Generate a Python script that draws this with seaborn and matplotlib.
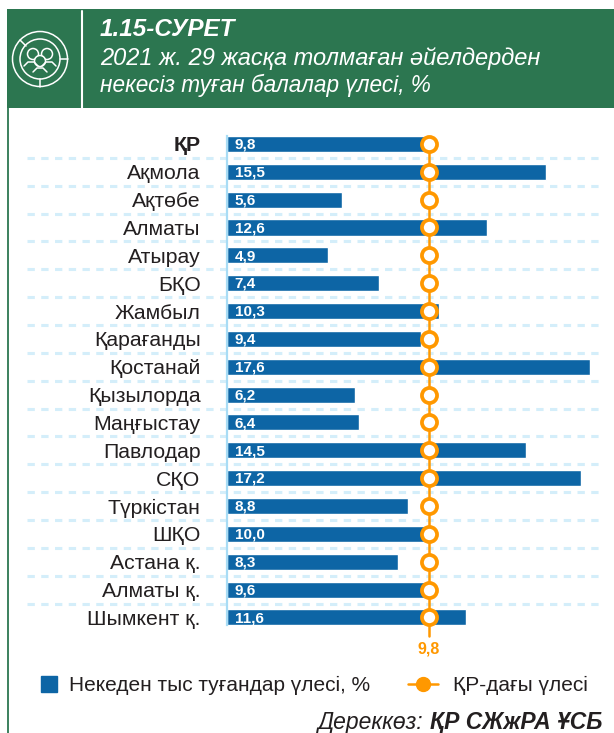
import matplotlib
matplotlib.use("Agg")
import matplotlib.pyplot as plt
from matplotlib.legend_handler import HandlerPatch
from matplotlib.lines import Line2D
from matplotlib.patches import Circle, Patch, Rectangle
import pandas as pd
import seaborn as sns

regions = ["ҚР", "Ақмола", "Ақтөбе", "Алматы", "Атырау", "БҚО", "Жамбыл", "Қарағанды", "Қостанай",
           "Қызылорда", "Маңғыстау", "Павлодар", "СҚО", "Түркістан", "ШҚО", "Астана қ.", "Алматы қ.", "Шымкент қ."]
shares = [9.8, 15.5, 5.6, 12.6, 4.9, 7.4, 10.3, 9.4, 17.6, 6.2, 6.4, 14.5, 17.2, 8.8, 10.0, 8.3, 9.6, 11.6]
kz_share = 9.8
series_name = "Некеден тыс туғандар үлесі, %"
kz_name = "ҚР-дағы үлесі"

BLUE = "#0d65a5"
ORANGE = "#ff9800"
GREEN = "#2c7650"
DARK = "#231f20"

W, H = 614, 733

sns.set_theme(style="white")
plt.rcParams["font.family"] = ["Liberation Sans", "DejaVu Sans"]

fig = plt.figure(figsize=(W / 100, H / 100), dpi=100)

# background layer in pixel coordinates
bg = fig.add_axes([0, 0, 1, 1])
bg.set_xlim(0, W)
bg.set_ylim(H, 0)
bg.axis("off")
bg.add_patch(Rectangle((7, 9), W - 7, 99, color=GREEN, lw=0))
bg.plot([81.5, 81.5], [11, 108], color="white", lw=1.5)
bg.plot([8, 8], [108, H], color=GREEN, lw=1.3)

# icon
bg.add_patch(Circle((40, 59), 27.5, fill=False, ec="white", lw=1.1))
bg.add_patch(Circle((40, 59), 20, fill=False, ec="white", lw=1.1))
bg.plot([20, 26], [40, 46], color="white", lw=1.1)
bg.plot([60, 68], [59, 59], color="white", lw=1.1)
bg.plot([40, 40], [79, 87], color="white", lw=1.1)
for cx, cy, r in [(33, 54, 5.5), (47, 54, 5.5), (40, 61, 5.5)]:
    bg.add_patch(Circle((cx, cy), r, fc=GREEN, ec="white", lw=1.1))
for cx, cy in [(31, 66), (49, 66), (40, 72)]:
    bg.plot([cx - 7, cx - 3, cx + 3, cx + 7], [cy, cy - 4, cy - 4, cy], color="white", lw=1.1)

bg.text(100, 30, "1.15-СУРЕТ", color="white", fontsize=17.5, fontweight="bold", style="italic", va="center")
bg.text(100, 58, "2021 ж. 29 жасқа толмаған әйелдерден", color="white", fontsize=17, style="italic", va="center")
bg.text(100, 85, "некесіз туған балалар үлесі, %", color="white", fontsize=16.3, style="italic", va="center")

# chart axes: 0 at x=227, 20.6 px per unit, rows 27.85 px apart
ax = fig.add_axes([227 / W, 1 - 631.4 / H, 374 / W, 501.4 / H])
ax.patch.set_alpha(0)
df = pd.DataFrame({"region": regions, "share": shares})
sns.barplot(data=df, x="share", y="region", color=BLUE, saturation=1, width=0.575, ax=ax, zorder=2)

for s in ["top", "right", "bottom"]:
    ax.spines[s].set_visible(False)
ax.spines["left"].set_color("#a8dcf5")
ax.spines["left"].set_linewidth(1.6)
ax.spines["left"].set_bounds(-0.29, 17.28)

ax.set_xlim(0, 374 / 20.6)
ax.set_ylim(17.5, -0.5)
ax.set_xlabel("")
ax.set_ylabel("")
ax.set_xticks([])
ax.tick_params(axis="y", length=0, pad=19)
for lab in ax.get_yticklabels():
    lab.set_fontsize(15.3)
    lab.set_color(DARK)
ax.get_yticklabels()[0].set_fontweight("bold")

for i in range(len(regions) - 1):
    ax.axhline(i + 0.5, xmin=-200 / 374, xmax=1, color="#d4eefa", lw=2.2, dashes=(2.4, 2.1), clip_on=False, zorder=1)

for i, v in enumerate(shares):
    ax.annotate(f"{v:.1f}".replace(".", ","), (0, i), xytext=(5.5, -0.5), textcoords="offset points",
                color="white", fontsize=11, fontweight="bold", va="center", zorder=3)

ax.plot([kz_share, kz_share], [0, 17.67], color=ORANGE, lw=1.8, clip_on=False, zorder=4)
sns.scatterplot(x=[kz_share] * len(regions), y=list(range(len(regions))), ax=ax, s=118, color="white",
                edgecolor=ORANGE, linewidth=2.7, zorder=5, clip_on=False, legend=False)
ax.annotate("9,8", (kz_share, 17.5), xytext=(0, -13), textcoords="offset points", color=ORANGE,
            fontsize=11.5, fontweight="bold", ha="center", va="center", annotation_clip=False)


def small_square(legend, orig_handle, xdescent, ydescent, width, height, fontsize):
    # 16 px square, a bit to the right in the 30 px handle box
    side = 11.5
    return Rectangle((width + 2.2 - side, height / 2 - side / 2), side, side)


# legend
handles = [Patch(color=BLUE, label=series_name),
           Line2D([0], [0], color=ORANGE, lw=1.8, marker="o", ms=10, label=kz_name)]
fig.legend(handles=handles, loc="center left", bbox_to_anchor=(24 / W, 1 - 685.5 / H), ncol=2, frameon=False,
           fontsize=15, labelcolor=DARK, handlelength=1.44, handletextpad=0.72,
           columnspacing=1.83, borderpad=0, borderaxespad=0,
           handler_map={Patch: HandlerPatch(patch_func=small_square)})

# source line
src = bg.text(602, 722, "ҚР СЖжРА ҰСБ", color=DARK, fontsize=16.5, fontweight="bold", style="italic",
              ha="right", va="center")
bg.annotate("Дереккөз: ", xy=(0, 0.5), xycoords=src, color=DARK, fontsize=16.5, style="italic",
            ha="right", va="center")

fig.savefig("out.png", dpi=100)
